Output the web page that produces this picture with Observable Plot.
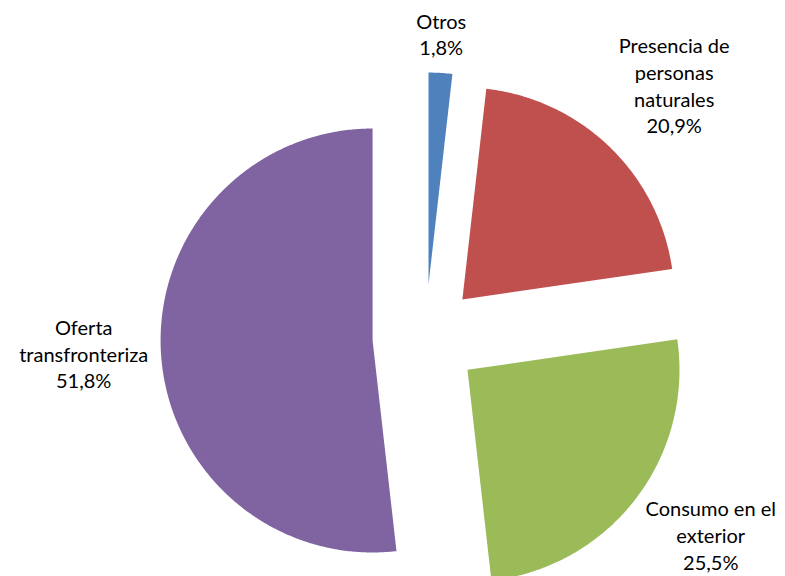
<!DOCTYPE html>
<html>
<head>
<meta charset="utf-8">
<script src="https://cdn.jsdelivr.net/npm/d3@7"></script>
<script src="https://cdn.jsdelivr.net/npm/@observablehq/plot@0.6"></script>
<style>
  html, body { margin: 0; padding: 0; background: #fff; }
  #chart svg { display: block; }
</style>
</head>
<body>
<div id="chart"></div>
<script>
// ---- data ----
const categories = ["Otros", "Presencia de personas naturales", "Consumo en el exterior", "Oferta transfronteriza"];
const labelNames = ["Otros", "Presencia de\npersonas\nnaturales", "Consumo en el\nexterior", "Oferta\ntransfronteriza"];
const shares = [1.8, 20.9, 25.5, 51.8];
const colors = ["#4F81BD", "#C0504D", "#9BBB59", "#8064A2"];

// ---- layout ----
const W = 785, H = 576;
const cx = 425, cy = 337, R = 212;      // pie center / radius in px
const explode = 0.25;                   // explosion as fraction of radius
const labelR = 1.31;                    // label anchor distance (radius units)
const fontSize = 20, lineH = 26.7, fontFamily = "Lato, 'Open Sans', sans-serif";

const fmt = v => d3.format(".1f")(v).replace(".", ",") + "%";

const arcs = d3.pie().sort(null).value(d => d)(shares);

// slice outlines (unit radius, y up)
const points = [];
arcs.forEach((a, i) => {
  const mid = (a.startAngle + a.endAngle) / 2;
  const ox = explode * Math.sin(mid), oy = explode * Math.cos(mid);
  points.push({name: categories[i], x: ox, y: oy});
  const n = Math.max(4, Math.ceil((a.endAngle - a.startAngle) / (Math.PI / 360)));
  for (let k = 0; k <= n; k++) {
    const t = a.startAngle + (a.endAngle - a.startAngle) * k / n;
    points.push({name: categories[i], x: ox + Math.sin(t), y: oy + Math.cos(t)});
  }
});

// labels: measure text box, place outside along mid-angle
const ctx = document.createElement("canvas").getContext("2d");
ctx.font = `${fontSize}px Lato`;
const labels = arcs.map((a, i) => {
  const text = labelNames[i] + "\n" + fmt(shares[i]);
  const lines = text.split("\n");
  const w = d3.max(lines, l => ctx.measureText(l).width) / R;
  const h = lines.length * lineH / R;
  const mid = (a.startAngle + a.endAngle) / 2;
  const ux = Math.sin(mid), uy = Math.cos(mid);
  const sx = ux > 0.3 ? 1 : ux < -0.3 ? -1 : 0;
  const sy = uy > 0.3 ? 1 : uy < -0.3 ? -1 : 0;
  let x = labelR * ux + sx * w / 2;
  let y = labelR * uy + sy * h / 2;
  const yMin = -(H - 2 - cy) / R + h / 2;   // keep inside chart area
  if (y < yMin) y = yMin;
  return {text, x, y};
});

const chart = Plot.plot({
  width: W,
  height: H,
  margin: 0,
  x: {domain: [-cx / R, (W - cx) / R], axis: null},
  y: {domain: [-(H - cy) / R, cy / R], axis: null},
  color: {domain: categories, range: colors},
  style: {background: "#fff"},
  marks: [
    Plot.line(points, {x: "x", y: "y", z: "name", fill: "name", stroke: "none", curve: "linear"}),
    Plot.text(labels, {
      x: "x", y: "y", text: "text",
      textAnchor: "middle", lineAnchor: "middle",
      fontSize, lineHeight: lineH / fontSize, fontFamily, fill: "#000"
    })
  ]
});
document.getElementById("chart").appendChild(chart);
</script>
</body>
</html>
